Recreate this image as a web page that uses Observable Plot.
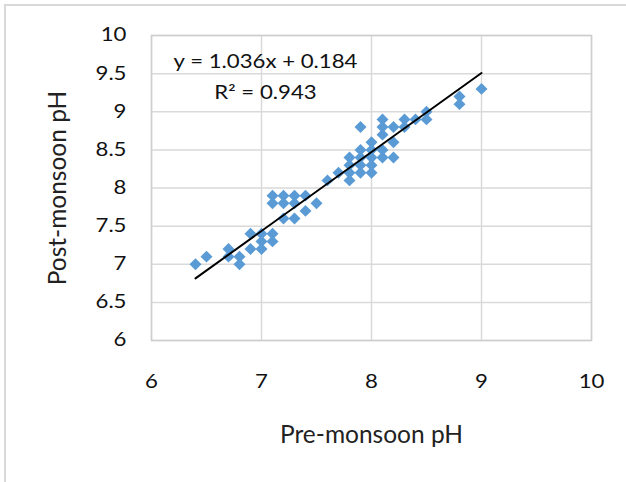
<!DOCTYPE html>
<html>
<head>
<meta charset="utf-8">
<script src="https://cdn.jsdelivr.net/npm/d3@7"></script>
<script src="https://cdn.jsdelivr.net/npm/@observablehq/plot@0.6"></script>
<style>
  html, body { margin: 0; padding: 0; background: #fff; }
  #wrap { position: relative; width: 626px; height: 482px; overflow: hidden; }
  #border { position: absolute; left: 4px; top: 4px; width: 640px; height: 500px;
            border-left: 2px solid #d9d9d9; border-top: 2px solid #d9d9d9; pointer-events: none; }
  svg { font-family: Lato, "Open Sans", sans-serif; }
</style>
</head>
<body>
<div id="wrap"><div id="border"></div></div>
<script>
// Pre-monsoon pH (x) and Post-monsoon pH (y)
const pre  = [6.4, 6.5, 6.7, 6.7, 6.8, 6.8, 6.9, 6.9, 7.0, 7.0, 7.0, 7.1, 7.1, 7.1, 7.1,
              7.2, 7.2, 7.2, 7.3, 7.3, 7.3, 7.4, 7.4, 7.5, 7.6, 7.7,
              7.8, 7.8, 7.8, 7.8, 7.9, 7.9, 7.9, 7.9, 7.9,
              8.0, 8.0, 8.0, 8.0, 8.0, 8.1, 8.1, 8.1, 8.1, 8.1,
              8.2, 8.2, 8.2, 8.3, 8.3, 8.4, 8.5, 8.5, 8.8, 8.8, 9.0];
const post = [7.0, 7.1, 7.2, 7.1, 7.0, 7.1, 7.4, 7.2, 7.4, 7.2, 7.3, 7.4, 7.3, 7.9, 7.8,
              7.9, 7.8, 7.6, 7.9, 7.8, 7.6, 7.9, 7.7, 7.8, 8.1, 8.2,
              8.4, 8.3, 8.1, 8.2, 8.8, 8.5, 8.4, 8.2, 8.3,
              8.6, 8.5, 8.3, 8.2, 8.4, 8.9, 8.8, 8.7, 8.4, 8.5,
              8.8, 8.6, 8.4, 8.9, 8.8, 8.9, 9.0, 8.9, 9.2, 9.1, 9.3];
// Trendline shown in the chart
const slope = 1.036, intercept = 0.184;
const trendX = [6.4, 9.0];
const xTicks = [6, 7, 8, 9, 10];
const yTicks = [6, 6.5, 7, 7.5, 8, 8.5, 9, 9.5, 10];
const xLabel = "Pre-monsoon pH";
const yLabel = "Post-monsoon pH";
const eqLines = ["y = 1.036x + 0.184", "R\u00B2 = 0.943"];

const points = pre.map((x, i) => ({x, y: post[i]}));
const trend = trendX.map(x => ({x, y: slope * x + intercept}));

const chart = Plot.plot({
  width: 626,
  height: 482,
  marginLeft: 151,
  marginRight: 35,
  marginTop: 35,
  marginBottom: 142,
  style: {fontFamily: "Lato, 'Open Sans', sans-serif", color: "#000", background: "transparent"},
  x: {domain: [6, 10]},
  y: {domain: [6, 10]},
  marks: [
    Plot.gridX(xTicks, {stroke: "#d9d9d9", strokeOpacity: 1, strokeWidth: 1.5}),
    Plot.gridY(yTicks, {stroke: "#d9d9d9", strokeOpacity: 1, strokeWidth: 1.5}),
    Plot.frame({stroke: "#cfcfcf", strokeWidth: 1.5}),
    Plot.axisX(xTicks, {tickSize: 0, tickPadding: 34, fontSize: 18.5, label: null, fill: "#111", tickFormat: d => String(d)}),
    Plot.axisY(yTicks, {tickSize: 0, tickPadding: 25, fontSize: 18.5, label: null, fill: "#111", tickFormat: d => String(d)}),
    Plot.dot(points, {x: "x", y: "y", symbol: "diamond2", r: 5.4, fill: "#5b9bd5", stroke: "none"}),
    Plot.line(trend, {x: "x", y: "y", stroke: "#000", strokeWidth: 2}),
    Plot.text([eqLines[0]], {frameAnchor: "top-left", dx: 114, dy: 27, text: d => d, textAnchor: "middle", lineAnchor: "middle", fontSize: 18.5, fill: "#111"}),
    Plot.text([eqLines[1]], {frameAnchor: "top-left", dx: 114, dy: 58, text: d => d, textAnchor: "middle", lineAnchor: "middle", fontSize: 18.5, fill: "#111"}),
    Plot.text([xLabel], {frameAnchor: "bottom", dy: 95, text: d => d, textAnchor: "middle", lineAnchor: "middle", fontSize: 24.5, fill: "#222"}),
    Plot.text([yLabel], {frameAnchor: "left", dx: -93, rotate: -90, text: d => d, textAnchor: "middle", lineAnchor: "middle", fontSize: 24.5, fill: "#222"})
  ]
});
document.getElementById("wrap").appendChild(chart);
chart.style.position = "absolute";
chart.style.left = "0";
chart.style.top = "0";

// The reference uses a narrow face stretched wide: widen tick and equation text horizontally
const titles = new Set([xLabel, yLabel]);
chart.querySelectorAll("text").forEach(t => {
  if (titles.has(t.textContent)) return;
  const tr = t.getAttribute("transform") || "";
  t.setAttribute("transform", (tr + " scale(1.2,1)").trim());
});
</script>
</body>
</html>
